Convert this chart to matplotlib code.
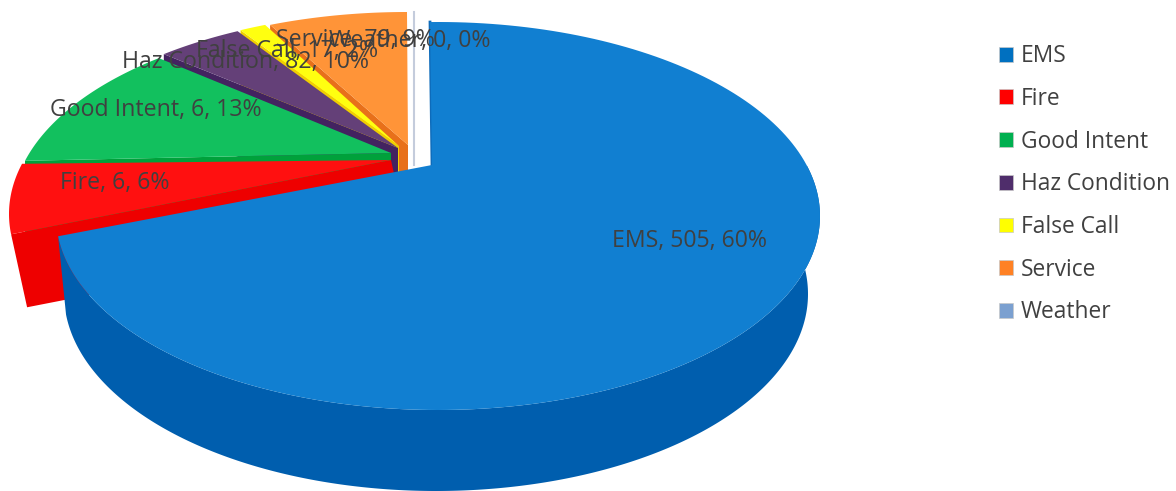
import numpy as np
import matplotlib
matplotlib.use("Agg")
import matplotlib.pyplot as plt
from matplotlib.patches import Patch

categorias = ["EMS", "Fire", "Good Intent", "Haz Condition", "False Call", "Service", "Weather"]
conteos = [505, 6, 6, 82, 17, 79, 0]
porcentajes = [60, 6, 13, 10, 2, 9, 0]

colores_leyenda = ["#0070C0", "#FF0000", "#00B050", "#4F2D6B", "#FFFF00", "#FF8124", "#7BA0D0"]
colores_cara = ["#117FD1", "#FF1010", "#12C05E", "#644078", "#FFFF10", "#FF9438", "#C4CCDC"]
colores_pared = ["#005EAE", "#EE0000", "#00A13B", "#432360", "#F0D000", "#E8701A", "#C4CCDC"]

# explosion de cada porcion: desplazamiento del borde y posicion del vertice
desplazamientos = [(0, 0), (-47, -2), (-44, -5), (-39, -9), (-36, -10), (-31, -10), (-24, -10)]
vertices = [(432, 165), (391, 160), (391, 153), (398, 148), (399, 146), (408, 145), (414, 165)]
etiquetas_xy = [(690, 241), (115, 183), (156, 110), (246, 62), (287, 51), (355, 40), (410, 41)]

# vista 3D: angulo real del pastel -> angulo sobre la elipse en pantalla
angulo_modelo = [0, 216, 237.6, 284.4, 320.4, 327.6, 360]
angulo_vista = [-1.2, 264, 285, 322, 335, 339, 360]

CX, CY, RX, RY = 438, 216, 382, 194
BASE_CX, BASE_CY, BASE_RX, BASE_RY = 436, 294, 372, 197
PROFUNDIDAD = 73


def vista(theta):
    return np.interp(theta, angulo_modelo, angulo_vista)


def arco(phi, cx=CX, cy=CY, rx=RX, ry=RY):
    phi = np.radians(phi)
    return cx + rx * np.sin(phi), cy - ry * np.cos(phi)


fig = plt.figure(figsize=(11.76, 4.91), dpi=100)
ax = fig.add_axes([0, 0, 1, 1])
ax.set_xlim(0, 1176)
ax.set_ylim(491, 0)
ax.axis("off")

limites = np.cumsum([0] + porcentajes) * 3.6

# de atras hacia adelante, EMS queda encima de todo
for i in range(len(categorias) - 1, -1, -1):
    ini, fin = vista(limites[i]), vista(limites[i + 1])
    if i == len(categorias) - 1:
        ini = fin = angulo_vista[-1]
    phi = np.linspace(ini, fin, 200)
    x, y = arco(phi)
    dx, dy = desplazamientos[i]
    x, y = x + dx, y + dy
    vx, vy = vertices[i]

    if porcentajes[i] == 0:
        ax.plot([x[0], vx], [y[0], vy], color=colores_cara[i], lw=1.5, zorder=-i)
        continue

    if i == 0:
        # lateral curvo de la porcion principal
        phi_l = np.linspace(75, fin, 300)
        xa, ya = arco(phi_l)
        xb, yb = arco(phi_l, BASE_CX, BASE_CY, BASE_RX, BASE_RY)
        ax.fill(np.r_[xa, xb[::-1]], np.r_[ya, yb[::-1]], color=colores_pared[i], lw=0, zorder=-i)
        ax.plot([x[0], vx], [y[0], vy], color="#0E6BBA", lw=2, zorder=-i + 0.5)
    else:
        # pared interior bajo el borde de inicio
        corrimiento = 16 if i == 1 else 0
        ax.fill([x[0], vx, vx + corrimiento, x[0] + corrimiento],
                [y[0], vy, vy + PROFUNDIDAD, y[0] + PROFUNDIDAD],
                color=colores_pared[i], lw=0, zorder=-i)

    ax.fill(np.r_[vx, x], np.r_[vy, y], color=colores_cara[i], lw=0, zorder=-i + 0.5)

for i, cat in enumerate(categorias):
    ax.text(etiquetas_xy[i][0], etiquetas_xy[i][1], f"{cat}, {conteos[i]}, {porcentajes[i]}%",
            ha="center", va="center", fontsize=16.7, family="Open Sans", color="#404040", zorder=5)

handles = [Patch(facecolor=c, edgecolor="#C8C8C8", lw=0.5) for c in colores_leyenda]
ax.legend(handles, categorias, loc="upper left", bbox_to_anchor=(0.8495, 0.91), frameon=False,
          prop={"family": "Open Sans", "size": 16.4}, labelcolor="#404040",
          handlelength=0.62, handleheight=0.62, handletextpad=0.35, labelspacing=0.82,
          borderpad=0, borderaxespad=0)

fig.savefig("out.png", dpi=100)
